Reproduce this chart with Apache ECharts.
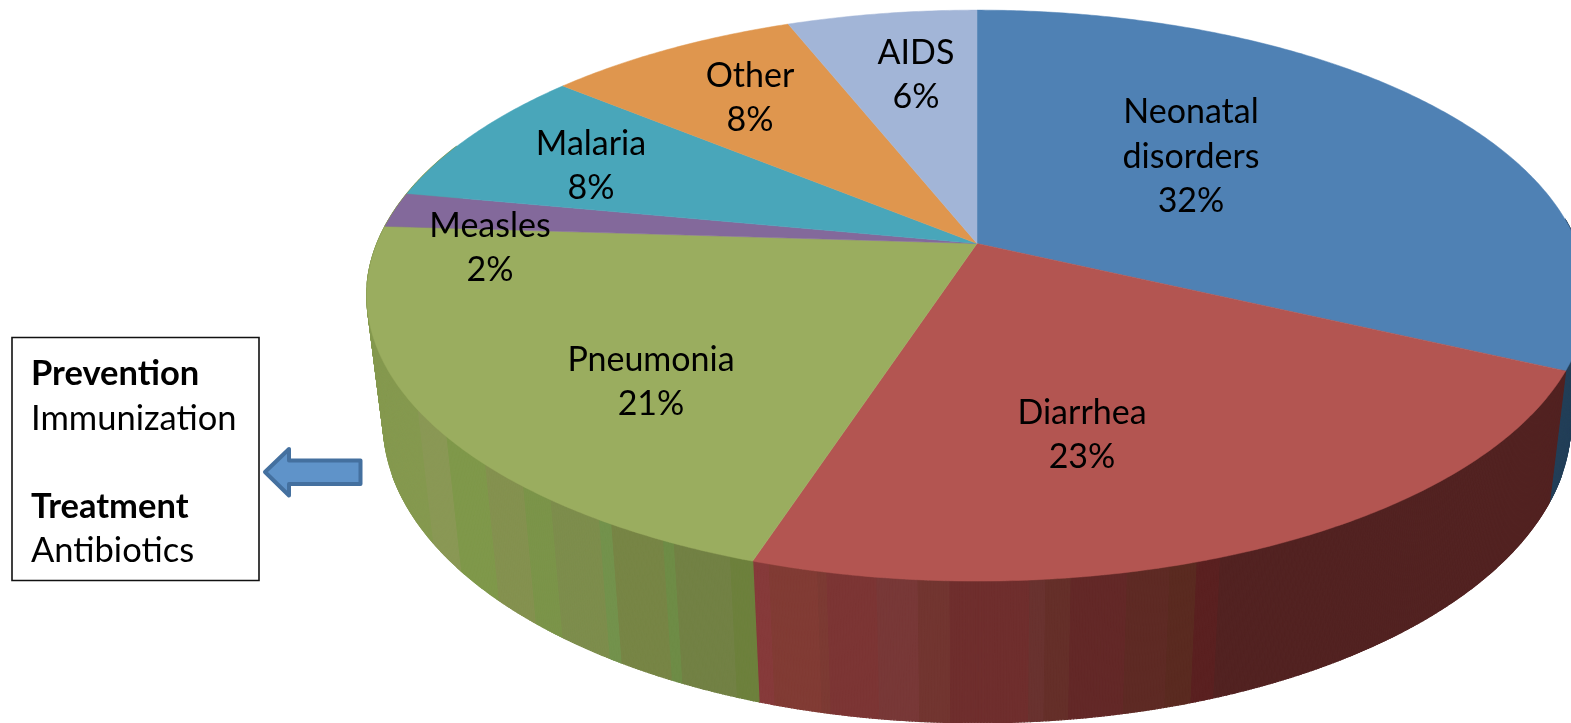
<!DOCTYPE html>
<html>
<head>
<meta charset="utf-8">
<style>html,body{margin:0;padding:0;background:#fff}#c{width:1571px;height:723px}</style>
<script src="https://cdn.jsdelivr.net/npm/echarts@6/dist/echarts.min.js"></script>
</head>
<body>
<div id="c"></div>
<script>
// ---- data ----
const categories = ['Neonatal\ndisorders', 'Diarrhea', 'Pneumonia', 'Measles', 'Malaria', 'Other', 'AIDS'];
const shares = [32, 23, 21, 2, 8, 8, 6];
const boxLines = ['Prevention', 'Immunization', 'Treatment', 'Antibiotics'];

// ---- styles / layout ----
const topColors = ['#4f81b4', '#b35551', '#9aad5f', '#83699b', '#49a6ba', '#df964e', '#a2b5d7'];
const labelCenters = [[1191, 157], [1082, 435], [651, 382], [490, 248], [591, 166], [750, 98], [916, 75]];
const rimTop = { cx: 977, cy: 243.5, bx: 600, by: 276, k: 0.1825 };
const rimBottom = { cx: 977, cy: 367.5, bx: 584, by: 291, k: 0.181 };
// side shading: [bottom rim x where band ends, colour]
const sideBands = {
  0: [[9999, '#233f58']],
  1: [[773, '#863a3a'], [822, '#813b34'], [830, '#7c3a33'], [880, '#7c3534'], [919, '#783837'], [949, '#723530'],
      [1027, '#6f2e2d'], [1044, '#69322f'], [1067, '#652f29'], [1122, '#632827'], [1163, '#5e2a24'],
      [1189, '#5a2a20'], [1214, '#5a2020'], [9999, '#522221']],
  2: [[433, '#85994f'], [460, '#8a9855'], [498, '#7f984a'], [535, '#84914f'], [562, '#7b9449'], [608, '#7d8d4c'],
      [620, '#73924c'], [670, '#778545'], [683, '#6e8c46'], [737, '#728144'], [9999, '#6d803c']]
};

function project(r, deg, t) {
  const a = deg * Math.PI / 180, x = Math.sin(a) * t, y = Math.cos(a) * t, w = 1 + r.k * y;
  return [r.cx + r.bx * x / w, r.cy - r.by * y / w];
}
const total = shares.reduce((a, b) => a + b, 0);
const starts = [];
shares.reduce((acc, v, i) => { starts[i] = acc; return acc + v; }, 0);

function bandColor(i, x) {
  const bands = sideBands[i];
  if (!bands) return '#85994f';
  for (const b of bands) if (x <= b[0]) return b[1];
  return bands[bands.length - 1][1];
}

function renderSlice(params, api) {
  const i = params.dataIndex, v = api.value(0);
  const a0 = starts[i] / total * 360, a1 = a0 + v / total * 360;
  const children = [];
  // side wall strips (front half only); later strips overlap earlier ones so no seams show
  const s0 = Math.max(a0, 85), s1 = Math.min(a1, 292);
  const step = 0.25;
  for (let a = s0; a < s1; a += step) {
    const b = Math.min(a + step, s1);
    const p1 = project(rimTop, a, 1), p2 = project(rimTop, b, 1);
    const q1 = project(rimBottom, a, 1), q2 = project(rimBottom, b, 1);
    const col = bandColor(i, (q1[0] + q2[0]) / 2);
    children.push({
      type: 'polygon', z2: 1, silent: true,
      shape: { points: [p1, p2, q2, q1] },
      style: { fill: col, stroke: col, lineWidth: 1.2 }
    });
  }
  // top face
  const pts = [project(rimTop, 0, 0)];
  for (let a = a0; a < a1; a += 0.5) pts.push(project(rimTop, a, 1));
  pts.push(project(rimTop, a1, 1));
  children.push({
    type: 'polygon', z2: 10,
    shape: { points: pts },
    style: { fill: topColors[i], stroke: topColors[i], lineWidth: 0.5 }
  });
  // label
  children.push({
    type: 'text', z2: 100, silent: true,
    x: labelCenters[i][0], y: labelCenters[i][1],
    style: {
      text: categories[i] + '\n' + v + '%',
      font: '34px Lato, Carlito, sans-serif', lineHeight: 44.5,
      fill: '#000', align: 'center', verticalAlign: 'middle'
    }
  });
  return { type: 'group', children };
}

const boxFont = '34.5px Lato, Carlito, sans-serif';
const boxFontBold = 'bold 34.5px Lato, Carlito, sans-serif';
const chart = echarts.init(document.getElementById('c'), null, { renderer: 'canvas' });
chart.setOption({
  animation: false,
  backgroundColor: '#fff',
  series: [{
    type: 'custom',
    coordinateSystem: 'none',
    renderItem: renderSlice,
    data: shares.map(v => [v])
  }],
  graphic: [
    { type: 'rect', shape: { x: 12, y: 337.5, width: 247, height: 243 },
      style: { fill: '#fff', stroke: '#111', lineWidth: 1.6 } },
    { type: 'text', x: 31, y: 374, style: { text: boxLines[0], font: boxFontBold, fill: '#000', verticalAlign: 'middle' } },
    { type: 'text', x: 31, y: 419, style: { text: boxLines[1], font: boxFont, fill: '#000', verticalAlign: 'middle' } },
    { type: 'text', x: 31, y: 506.5, style: { text: boxLines[2], font: boxFontBold, fill: '#000', verticalAlign: 'middle' } },
    { type: 'text', x: 31, y: 551, style: { text: boxLines[3], font: boxFont, fill: '#000', verticalAlign: 'middle' } },
    { type: 'polygon',
      shape: { points: [[265, 472], [289, 449], [289, 460.5], [360.5, 460.5], [360.5, 484], [289, 484], [289, 495.5]] },
      style: { fill: '#5f93c9', stroke: '#44709f', lineWidth: 4, lineJoin: 'round' } }
  ]
});
</script>
</body>
</html>
